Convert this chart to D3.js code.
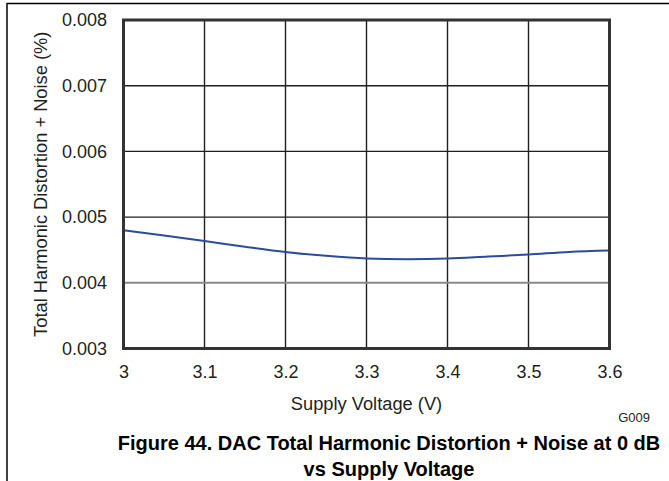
<!DOCTYPE html>
<html><head><meta charset="utf-8">
<script src="https://cdn.jsdelivr.net/npm/d3@7"></script>
<style>body{margin:0;background:#fff}svg{display:block}</style>
</head><body>
<script>
const voltage = [3.0, 3.05, 3.1, 3.15, 3.2, 3.25, 3.3, 3.35, 3.4, 3.45, 3.5, 3.55, 3.6];
const thdn    = [0.00480, 0.00472, 0.004636, 0.00455, 0.00447, 0.00441, 0.00437, 0.00436, 0.00437, 0.00440, 0.00443, 0.00447, 0.00449];
const xTicks = [3, 3.1, 3.2, 3.3, 3.4, 3.5, 3.6];
const xTickLabels = ["3", "3.1", "3.2", "3.3", "3.4", "3.5", "3.6"];
const yTicks = [0.003, 0.004, 0.005, 0.006, 0.007, 0.008];
const yTickLabels = ["0.003", "0.004", "0.005", "0.006", "0.007", "0.008"];

const W = 669, H = 481;
const svg = d3.select("body").append("svg").attr("width", W).attr("height", H);
const font = "Liberation Sans, Arial, Helvetica, sans-serif";

// outer frame lines
svg.append("line").attr("x1", 7).attr("x2", W).attr("y1", 3.5).attr("y2", 3.5).attr("stroke", "#000").attr("stroke-width", 1.5);
svg.append("line").attr("x1", 7).attr("x2", 7).attr("y1", 3).attr("y2", H).attr("stroke", "#000").attr("stroke-width", 1.5);

const x = d3.scaleLinear().domain([3, 3.6]).range([123.5, 609.5]);
const y = d3.scaleLinear().domain([0.003, 0.008]).range([348.5, 20]);

// grid
const g = svg.append("g");
g.selectAll(".vg").data(xTicks.slice(1, -1)).enter().append("line")
  .attr("x1", d => x(d)).attr("x2", d => x(d)).attr("y1", y(0.008)).attr("y2", y(0.003))
  .attr("stroke", "#231f20").attr("stroke-width", 1.4);
g.selectAll(".hg").data(yTicks.slice(1, -1)).enter().append("line")
  .attr("x1", x(3)).attr("x2", x(3.6)).attr("y1", d => y(d)).attr("y2", d => y(d))
  .attr("stroke", d => d === 0.004 ? "#8a8a8a" : "#231f20")
  .attr("stroke-width", d => d === 0.004 ? 2 : 1.4);

// data line
const line = d3.line().x((d, i) => x(voltage[i])).y(d => y(d)).curve(d3.curveMonotoneX);
svg.append("path").datum(thdn).attr("d", line).attr("fill", "none")
  .attr("stroke", "#2b4c9c").attr("stroke-width", 2);

// frame
svg.append("rect").attr("x", x(3)).attr("y", y(0.008)).attr("width", x(3.6) - x(3)).attr("height", y(0.003) - y(0.008))
  .attr("fill", "none").attr("stroke", "#333").attr("stroke-width", 3);

// axes (labels only)
const xAxis = d3.axisBottom(x).tickValues(xTicks).tickFormat((d, i) => xTickLabels[i]).tickSize(0).tickPadding(17);
const xa = svg.append("g").attr("transform", `translate(0,${y(0.003)})`).call(xAxis);
xa.select(".domain").remove();
xa.selectAll("text").attr("font-family", font).attr("font-size", 18).attr("fill", "#231f20");

const yAxis = d3.axisLeft(y).tickValues(yTicks).tickFormat((d, i) => yTickLabels[i]).tickSize(0).tickPadding(16.5);
const ya = svg.append("g").attr("transform", `translate(${x(3)},0)`).call(yAxis);
ya.select(".domain").remove();
ya.selectAll("text").attr("font-family", font).attr("font-size", 18).attr("fill", "#231f20");

// titles
svg.append("text").attr("transform", `translate(47,${(y(0.003) + y(0.008)) / 2}) rotate(-90)`)
  .attr("text-anchor", "middle").attr("font-family", font).attr("font-size", 18.3).attr("fill", "#231f20")
  .text("Total Harmonic Distortion + Noise (%)");
svg.append("text").attr("x", (x(3) + x(3.6)) / 2).attr("y", 410).attr("text-anchor", "middle")
  .attr("font-family", font).attr("font-size", 18.3).attr("fill", "#231f20").text("Supply Voltage (V)");
svg.append("text").attr("x", 650).attr("y", 422).attr("text-anchor", "end")
  .attr("font-family", font).attr("font-size", 13).attr("fill", "#231f20").text("G009");

// caption
svg.append("text").attr("x", 389).attr("y", 450).attr("text-anchor", "middle")
  .attr("font-family", font).attr("font-size", 20).attr("font-weight", "bold").attr("fill", "#000")
  .text("Figure 44. DAC Total Harmonic Distortion + Noise at 0 dB");
svg.append("text").attr("x", 389).attr("y", 476).attr("text-anchor", "middle")
  .attr("font-family", font).attr("font-size", 20).attr("font-weight", "bold").attr("fill", "#000")
  .text("vs Supply Voltage");
</script>
</body></html>
